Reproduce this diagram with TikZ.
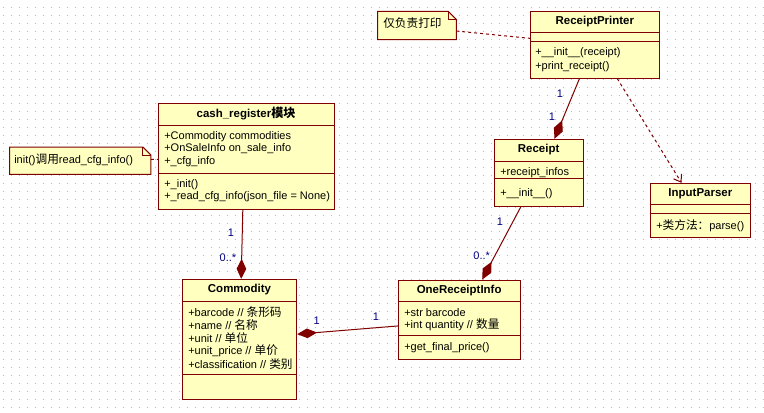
\documentclass[tikz,border=0pt]{standalone}
\usepackage{fontspec}
\setmainfont{Liberation Sans}
\newfontfamily\cjk[Scale=1.06]{Noto Sans CJK SC}
\usetikzlibrary{arrows.meta,fit,calc}
\definecolor{boxfill}{RGB}{255,255,192}
\definecolor{boxline}{RGB}{128,0,0}
\definecolor{multc}{RGB}{0,0,128}
\definecolor{gridc}{RGB}{190,190,190}
\begin{document}
\begin{tikzpicture}[x=0.75pt,y=-0.75pt,
  cls/.style={draw=boxline, fill=boxfill, line width=0.75pt, inner sep=0pt},
  clsname/.style={font=\fontsize{8.6}{10}\selectfont\bfseries, inner sep=0pt},
  member/.style={font=\fontsize{8.25}{10}\selectfont, inner sep=0pt, anchor=west},
  sepline/.style={draw=boxline, line width=0.75pt},
  mult/.style={font=\fontsize{8.25}{10}\selectfont, text=multc, inner sep=0pt},
  comp/.style={draw=boxline, line width=0.75pt, -{Diamond[length=15pt,width=7.2pt,fill=boxline]}},
  dep/.style={draw=boxline, line width=0.75pt, dash pattern=on 2.25pt off 2.25pt, -{Straight Barb[length=5pt,width=7pt]}},
  noteline/.style={draw=boxline, line width=0.75pt, dash pattern=on 2.25pt off 2.25pt},
  notebox/.style={inner sep=0pt},
  noteshape/.style={draw=boxline, fill=boxfill, line width=0.75pt},
]
\useasboundingbox (0,0) rectangle (764,412);
\fill[white] (0,0) rectangle (764,412);
% dotted grid
\foreach \j in {0,...,50}
  \draw[gridc, line width=0.75pt, dash pattern=on 0.75pt off 5.25pt] (2.5,7+8*\j) -- (764,7+8*\j);

% ---------- ReceiptPrinter
\node[cls, fit={(530.7,11.7)(659,78)}] (rp) {};
\draw[sepline] ($(rp.north west)+(0,21.6)$) -- ($(rp.north east)+(0,21.6)$);
\draw[sepline] ($(rp.north west)+(0,30.6)$) -- ($(rp.north east)+(0,30.6)$);
\node[clsname] (rpn) at ($(rp.north)+(0,10.8)$) {ReceiptPrinter};
\node[member] (rpm1) at (535,52.7) {+\_\_init\_\_(receipt)};
\node[member] (rpm2) at (535,66.7) {+print\_receipt()};

% ---------- cash_register
\node[cls, fit={(158.3,103.3)(334,209.3)}] (cr) {};
\draw[sepline] ($(cr.north west)+(0,22.4)$) -- ($(cr.north east)+(0,22.4)$);
\draw[sepline] ($(cr.north west)+(0,70.7)$) -- ($(cr.north east)+(0,70.7)$);
\node[clsname] (crn) at ($(cr.north)+(0,11.2)$) {cash\_register{\cjk 模块}};
\node[member] (cra1) at (164,136.7) {+Commodity commodities};
\node[member] (cra2) at (164,149) {+OnSaleInfo on\_sale\_info};
\node[member] (cra3) at (164,161.7) {+\_cfg\_info};
\node[member] (crm1) at (164,184.3) {+\_init()};
\node[member] (crm2) at (164,196.7) {+\_read\_cfg\_info(json\_file = None)};

% ---------- Receipt
\node[cls, fit={(494,139.3)(583.3,206)}] (rc) {};
\draw[sepline] ($(rc.north west)+(0,22.4)$) -- ($(rc.north east)+(0,22.4)$);
\draw[sepline] ($(rc.north west)+(0,40)$) -- ($(rc.north east)+(0,40)$);
\node[clsname] (rcn) at ($(rc.north)+(0,11.2)$) {Receipt};
\node[member] (rca1) at (500,172.7) {+receipt\_infos};
\node[member] (rcm1) at (500,193.3) {+\_\_init\_\_()};

% ---------- InputParser
\node[cls, fit={(650,183.3)(750.7,237.7)}] (ip) {};
\draw[sepline] ($(ip.north west)+(0,21.7)$) -- ($(ip.north east)+(0,21.7)$);
\draw[sepline] ($(ip.north west)+(0,30.7)$) -- ($(ip.north east)+(0,30.7)$);
\node[clsname] (ipn) at ($(ip.north)+(0,10.9)$) {InputParser};
\node[member] (ipm1) at (656,225.7) {+{\cjk 类方法：}parse()};

% ---------- Commodity
\node[cls, fit={(182.3,279.3)(296.7,399)}] (cm) {};
\draw[sepline] ($(cm.north west)+(0,22.4)$) -- ($(cm.north east)+(0,22.4)$);
\draw[sepline] ($(cm.north west)+(0,95.7)$) -- ($(cm.north east)+(0,95.7)$);
\node[clsname] (cmn) at ($(cm.north)+(0,11.2)$) {Commodity};
\node[member] (cma1) at (188,312) {+barcode // {\cjk 条形码}};
\node[member] (cma2) at (188,325) {+name // {\cjk 名称}};
\node[member] (cma3) at (188,338) {+unit // {\cjk 单位}};
\node[member] (cma4) at (188,351) {+unit\_price // {\cjk 单价}};
\node[member] (cma5) at (188,364) {+classification // {\cjk 类别}};

% ---------- OneReceiptInfo
\node[cls, fit={(398.3,280)(520,359.3)}] (ori) {};
\draw[sepline] ($(ori.north west)+(0,21.7)$) -- ($(ori.north east)+(0,21.7)$);
\draw[sepline] ($(ori.north west)+(0,56)$) -- ($(ori.north east)+(0,56)$);
\node[clsname] (orin) at ($(ori.north)+(0,10.9)$) {OneReceiptInfo};
\node[member] (oria1) at (404,312.3) {+str barcode};
\node[member] (oria2) at (404,324.3) {+int quantity // {\cjk 数量}};
\node[member] (orim1) at (404,347.7) {+get\_final\_price()};

% ---------- notes
\node[notebox, fit={(378,11.7)(456,39.3)}] (n1) {};
\draw[noteshape] (n1.north west) -- ($(n1.north east)+(-8,0)$) -- ($(n1.north east)+(0,8)$) -- (n1.south east) -- (n1.south west) -- cycle;
\draw[boxline, line width=0.75pt] ($(n1.north east)+(-8,0)$) -- ($(n1.north east)+(-8,8)$) -- ($(n1.north east)+(0,8)$);
\node[member] (n1t) at (383,23.5) {\cjk 仅负责打印};

\node[notebox, fit={(10,147.3)(150.7,174)}] (n2) {};
\draw[noteshape] (n2.north west) -- ($(n2.north east)+(-8,0)$) -- ($(n2.north east)+(0,8)$) -- (n2.south east) -- (n2.south west) -- cycle;
\draw[boxline, line width=0.75pt] ($(n2.north east)+(-8,0)$) -- ($(n2.north east)+(-8,8)$) -- ($(n2.north east)+(0,8)$);
\node[member] (n2t) at (14,159.5) {init(){\cjk 调用}read\_cfg\_info()};

\draw[noteline] ($(n1.east)+(0,5.5)$) -- ($(rp.west)+(0,-6.5)$);
\draw[noteline] ($(n2.east)+(0,-1.35)$) -- ($(cr.west)+(0,3)$);

% ---------- connectors
\draw[comp] ($(rp.south west)+(49.3,0)$) -- ($(rc.north west)+(61,0)$);
\node[mult] (m1) at (560,94) {1};
\node[mult] (m2) at (552,116.7) {1};

\draw[dep] ($(rp.south west)+(87,0)$) -- ($(ip.north west)+(32,0)$);

\draw[comp] ($(cr.south west)+(85,0)$) -- ($(cm.north west)+(59.4,0)$);
\node[mult] (m3) at (231,232.7) {1};
\node[mult] (m4) at (228,258) {0..*};

\draw[comp] ($(rc.south west)+(27.5,0)$) -- ($(ori.north west)+(84.4,0)$);
\node[mult] (m5) at (500,221.7) {1};
\node[mult] (m6) at (481.7,256) {0..*};

\draw[comp] ($(ori.west)+(0,6.3)$) -- ($(cm.east)+(0,-5)$);
\node[mult] (m7) at (316.7,321) {1};
\node[mult] (m8) at (376,316.7) {1};
\end{tikzpicture}
\end{document}
